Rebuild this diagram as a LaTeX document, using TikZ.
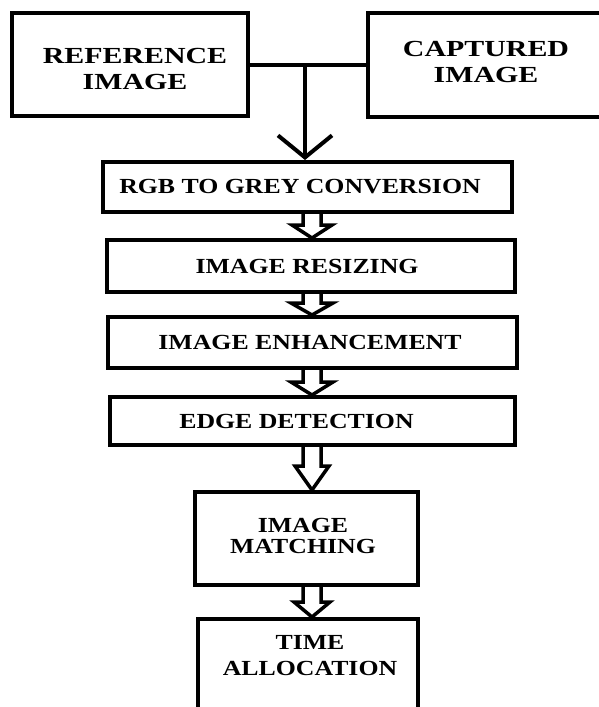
\documentclass[tikz,border=0pt]{standalone}
\usepackage{fontspec}
\setmainfont{Liberation Serif}[FakeStretch=1.2]
\newfontfamily\topfont{Liberation Serif}[FakeStretch=1.3]
\usetikzlibrary{arrows.meta,calc}
\newcommand\blockarrow[4]{%
  \coordinate (ba-t) at (312,0 |- #1.south);
  \coordinate (ba-b) at (312,0 |- #2.north);
  \draw[hollow] ($(ba-t)+(-9,0)$) -- ($(ba-b)+(-9,-#3)$) -- ($(ba-b)+(-#4,-#3)$)
     -- (ba-b) -- ($(ba-b)+(#4,-#3)$) -- ($(ba-b)+(9,-#3)$) -- ($(ba-t)+(9,0)$);
}
\begin{document}
\begin{tikzpicture}[x=1pt,y=-1pt,
  box/.style={draw, line width=4pt, rectangle, inner sep=0pt, align=center,
              font=\fontsize{21.5}{24}\selectfont\bfseries},
  txt/.style={inner sep=0pt, align=center, font=\fontsize{21.5}{26}\selectfont\bfseries},
  bigtxt/.style={inner sep=0pt, align=center, font=\topfont\fontsize{23}{26}\selectfont\bfseries},
  link/.style={line width=4pt},
  hollow/.style={line width=3.5pt, line join=miter}]
\useasboundingbox (0,0) rectangle (598,707);

\node[box, minimum width=236pt, minimum height=103pt] (ref) at (130,64.5) {};
\node[bigtxt] (reftxt) at (135,69) {REFERENCE\\IMAGE};
\node[box, minimum width=234pt, minimum height=104pt] (cap) at (485,65) {};
\node[bigtxt] (captxt) at (486,62) {CAPTURED\\IMAGE};
\node[box, minimum width=409pt, minimum height=50pt] (rgb) at (307.5,187) {RGB TO GREY CONVERSION\hspace*{15pt}};
\node[box, minimum width=408pt, minimum height=52pt] (res) at (311,266) {IMAGE RESIZING\hspace*{8pt}};
\node[box, minimum width=409pt, minimum height=51pt] (enh) at (312.5,342.5) {IMAGE ENHANCEMENT\hspace*{5pt}};
\node[box, minimum width=405pt, minimum height=48pt] (edge) at (312.5,421) {EDGE DETECTION\hspace*{32pt}};
\node[box, minimum width=223pt, minimum height=93pt] (match) at (306.5,538.5) {};
\node[txt, font=\fontsize{21.5}{21}\selectfont\bfseries] (matchtxt) at (303,535.5) {IMAGE\\MATCHING};
\node[box, minimum width=220pt, minimum height=100pt, anchor=north] (time) at (308,617) {};
\node[txt] (timetxt) at (310,656) {TIME\\ALLOCATION};

\coordinate (j) at (305,0 |- ref.east);
\draw[link] (ref.east) -- (cap.west |- ref.east);
\draw[link, -{Straight Barb[length=22pt,width=54pt]}] (j) -- (j |- rgb.north);

\blockarrow{rgb}{res}{13}{20}
\blockarrow{res}{enh}{12}{21}
\blockarrow{enh}{edge}{13}{21}
\blockarrow{edge}{match}{24}{17}
\blockarrow{match}{time}{15}{18}
\end{tikzpicture}
\end{document}
